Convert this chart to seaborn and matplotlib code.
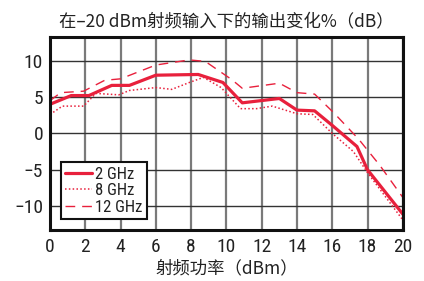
import matplotlib
matplotlib.use("Agg")
import matplotlib.pyplot as plt
from matplotlib import font_manager
import seaborn as sns

# ---- data ----
x_2ghz = [0, 1.2, 2.2, 3.5, 4.5, 6.0, 8.4, 9.8, 10.9, 13.0, 14.0, 15.0, 16.0, 17.4, 18.0, 20.0]
y_2ghz = [4.0, 5.2, 5.2, 6.6, 6.6, 8.0, 8.1, 7.0, 4.2, 4.8, 3.2, 3.1, 1.1, -1.8, -5.0, -11.1]

x_8ghz = [0, 0.7, 1.9, 2.6, 3.9, 4.5, 6.0, 6.9, 7.9, 8.7, 9.7, 10.8, 11.7, 12.6, 14.0, 14.9, 16.0, 17.2, 18.0, 20.0]
y_8ghz = [2.6, 3.75, 3.75, 5.5, 5.3, 5.9, 6.3, 6.05, 7.0, 7.7, 6.3, 3.4, 3.4, 3.75, 2.7, 2.6, 0.0, -2.5, -5.4, -11.9]

x_12ghz = [0, 0.6, 1.9, 3.1, 4.0, 6.0, 7.9, 8.8, 10.3, 10.9, 13.0, 14.0, 15.0, 16.1, 17.5, 18.7, 20.0]
y_12ghz = [4.5, 5.6, 5.8, 7.3, 7.5, 9.4, 10.1, 9.9, 7.4, 6.2, 6.9, 5.6, 5.4, 2.8, -0.8, -4.4, -8.8]

labels = ["2 GHz", "8 GHz", "12 GHz"]
x_ticks = [0, 2, 4, 6, 8, 10, 12, 14, 16, 18, 20]
y_ticks = [10, 5, 0, -5, -10]
y_ticklabels = ["10", "5", "0", "\u22125", "\u221210"]
title = "在–20 dBm射频输入下的输出变化%（dB）"
xlabel = "射频功率（dBm）"

sns.set_style("white")

# choose a condensed Latin face if one is installed, else Liberation Sans
names = {f.name for f in font_manager.fontManager.ttflist}
latin_fp = None
for nm in ["Liberation Sans Narrow", "Roboto Condensed", "Open Sans Condensed",
           "Noto Sans Condensed", "DejaVu Sans Condensed"]:
    if nm in names:
        latin_fp = font_manager.FontProperties(family=nm)
        break
if latin_fp is None:
    cands = [f for f in font_manager.fontManager.ttflist
             if f.name in ("Noto Sans", "Roboto", "Open Sans", "DejaVu Sans")
             and f.style == "normal" and f.weight in (400, "normal", "regular")
             and str(f.stretch) in ("condensed", "semi-condensed")]
    if cands:
        latin_fp = font_manager.FontProperties(fname=cands[0].fname)
condensed = latin_fp is not None
if latin_fp is None:
    latin_fp = font_manager.FontProperties(family="Liberation Sans")

plt.rcParams["font.family"] = ["Liberation Sans", "DejaVu Sans"]
cjk = ["Noto Sans CJK SC", "DejaVu Sans"]

red = "#e8203c"

fig = plt.figure(figsize=(4.24, 2.81), dpi=100)
ax = fig.add_axes([0.118, 0.181, 0.832, 0.686])

sns.lineplot(x=x_2ghz, y=y_2ghz, ax=ax, color=red, lw=2.3, label=labels[0])
sns.lineplot(x=x_8ghz, y=y_8ghz, ax=ax, color=red, lw=1.1, ls=(0, (1, 1.5)), label=labels[1])
sns.lineplot(x=x_12ghz, y=y_12ghz, ax=ax, color=red, lw=1.0, ls=(0, (7, 5)), label=labels[2])

ax.set_xlim(0, 20)
ax.set_ylim(-13.3, 13.2)
ax.set_xticks(x_ticks)
ax.set_yticks(y_ticks)
ax.set_yticklabels(y_ticklabels)

tick_size = 14 if condensed else 11.5
for lab in ax.get_xticklabels() + ax.get_yticklabels():
    lab.set_fontproperties(latin_fp)
    lab.set_fontsize(tick_size)
    lab.set_color("#222222")

ax.xaxis.grid(True, color="#7a7a7a", lw=1.6)
ax.yaxis.grid(True, color="#333333", lw=1.0)
ax.set_axisbelow(True)
for s in ax.spines.values():
    s.set_visible(True)
    s.set_color("#111111")
    s.set_linewidth(2.2)
ax.tick_params(axis="both", length=0)
ax.tick_params(axis="x", pad=6)
ax.tick_params(axis="y", pad=5)

ax.set_title(title, fontfamily=cjk, fontsize=12.5, color="#222222", pad=8)
ax.set_xlabel(xlabel, fontfamily=cjk, fontsize=12.5, color="#222222", labelpad=2)
ax.set_ylabel("")

leg_fp = latin_fp.copy()
leg_fp.set_size(12 if condensed else 9.5)
leg = ax.legend(loc="lower left", bbox_to_anchor=(0.031, 0.057), borderaxespad=0,
                fancybox=False, frameon=True, prop=leg_fp, handlelength=1.6,
                handletextpad=0.2, labelspacing=0.1, borderpad=0.25, framealpha=1)
leg.get_frame().set_edgecolor("#111111")
leg.get_frame().set_linewidth(1.5)
for t in leg.get_texts():
    t.set_color("#222222")

fig.savefig("out.png", dpi=100)
